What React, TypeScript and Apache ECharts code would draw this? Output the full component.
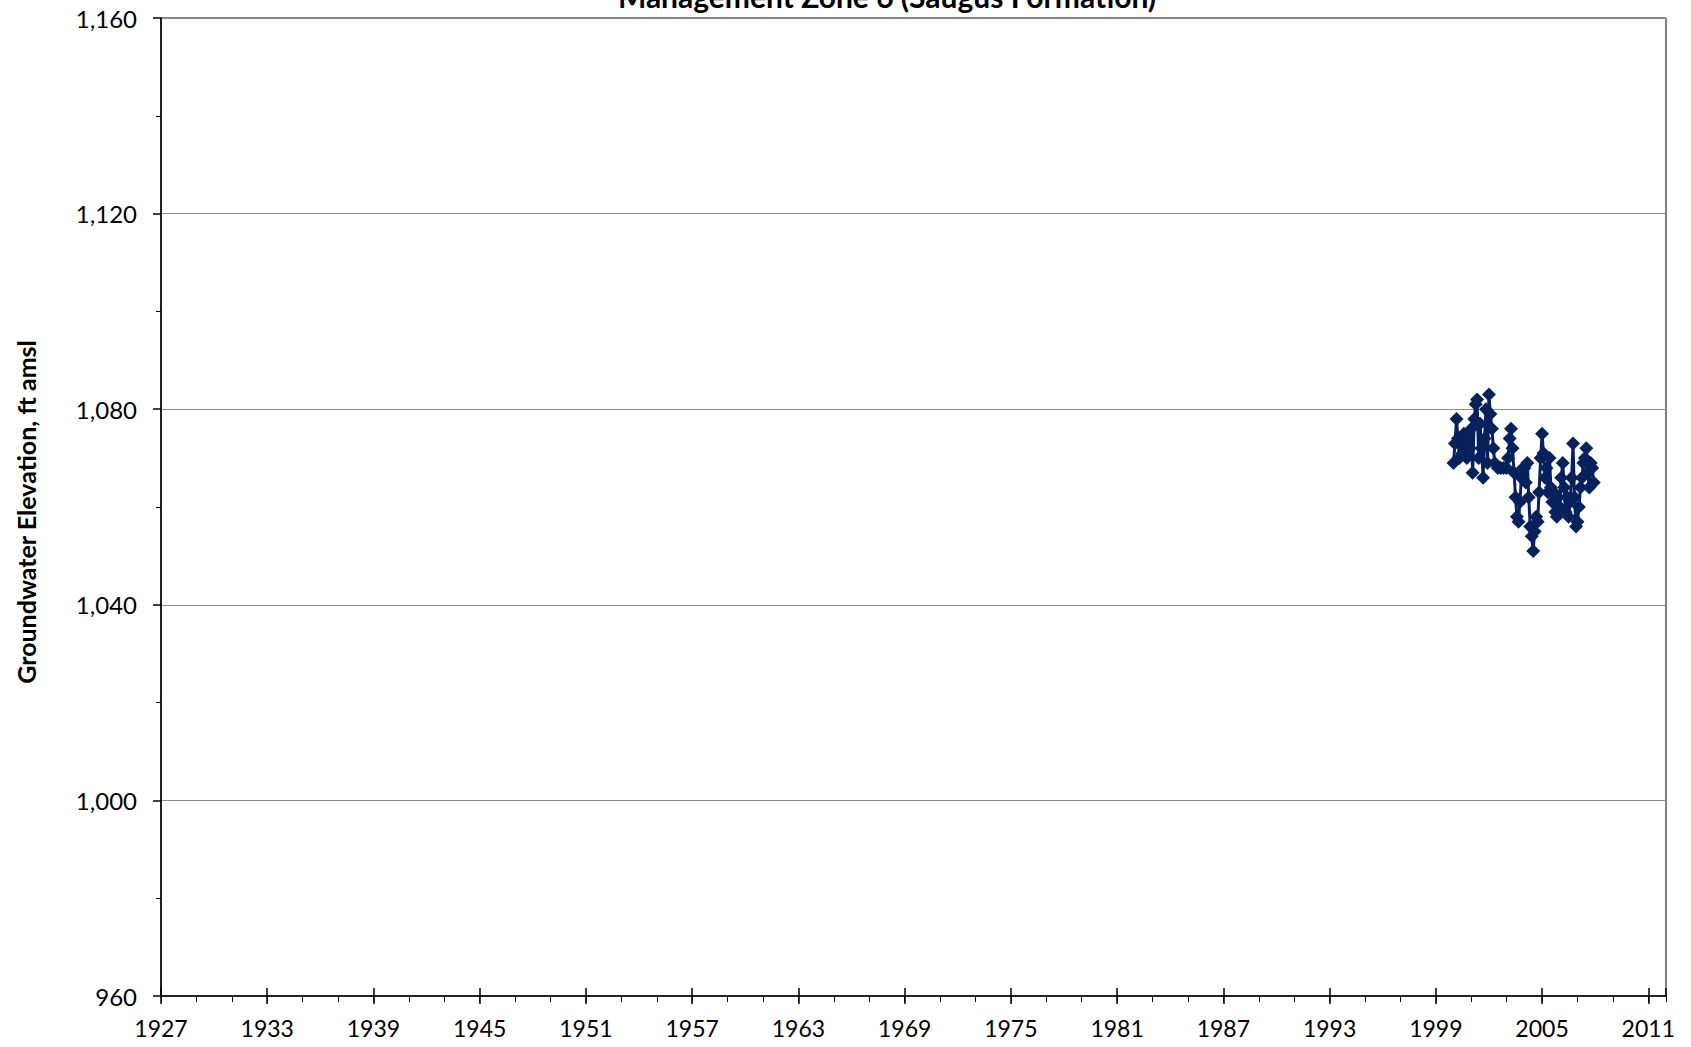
import React, { useEffect, useRef } from "react";
import * as echarts from "echarts";

const TITLE = "Management Zone 6 (Saugus Formation)";
const Y_NAME = "Groundwater Elevation, ft amsl";

const X_MIN_YEAR = 1927;
const X_MAX_YEAR = 2012;
const X_TICK_STEP = 6;
const Y_MIN = 960;
const Y_MAX = 1160;
const Y_TICK_STEP = 40;

const years = [
  2000.0, 2000.08, 2000.17, 2000.25, 2000.33, 2000.42, 2000.5, 2000.58, 2000.67, 2000.75, 2000.83, 2000.92,
  2001.0, 2001.08, 2001.17, 2001.25, 2001.33, 2001.42, 2001.5, 2001.58, 2001.67, 2001.75, 2001.83, 2001.92,
  2002.0, 2002.08, 2002.17, 2002.25, 2002.33, 2002.5, 2002.67, 2002.83,
  2003.0, 2003.08, 2003.17, 2003.25, 2003.33, 2003.42, 2003.5, 2003.58, 2003.67, 2003.75, 2003.83, 2003.92,
  2004.0, 2004.08, 2004.17, 2004.25, 2004.33, 2004.42, 2004.5, 2004.58, 2004.67, 2004.75, 2004.83, 2004.92,
  2005.0, 2005.08, 2005.17, 2005.25, 2005.33, 2005.42, 2005.5, 2005.58, 2005.67, 2005.75, 2005.83, 2005.92,
  2006.0, 2006.08, 2006.17, 2006.25, 2006.33, 2006.42, 2006.5, 2006.58, 2006.67, 2006.75, 2006.83, 2006.92,
  2007.0, 2007.08, 2007.17, 2007.25, 2007.33, 2007.42, 2007.5, 2007.58, 2007.67, 2007.75, 2007.83, 2007.92,
];

const elevations = [
  1069, 1073, 1078, 1074, 1070, 1073, 1071, 1075, 1072, 1070, 1074, 1072,
  1076, 1067, 1078, 1081, 1082, 1070, 1077, 1072, 1066, 1074, 1080, 1069,
  1083, 1079, 1076, 1072, 1069, 1068, 1068, 1068,
  1068, 1070, 1074, 1076, 1072, 1067, 1062, 1058, 1057, 1061, 1066, 1068,
  1068, 1065, 1069, 1062, 1056, 1054, 1051, 1055, 1058, 1057, 1063, 1070,
  1075, 1071, 1066, 1068, 1063, 1070, 1064, 1061, 1063, 1059, 1058, 1062,
  1060, 1066, 1069, 1064, 1059, 1062, 1058, 1061, 1066, 1073, 1062, 1056,
  1057, 1060, 1064, 1066, 1069, 1070, 1072, 1067, 1064, 1069, 1068, 1065,
];

const NAVY = "#06215c";
const FONT = "Lato";

export default function App() {
  const ref = useRef<HTMLDivElement>(null);
  useEffect(() => {
    if (!ref.current) return;
    const chart = echarts.init(ref.current, undefined, { renderer: "svg" });
    const span = X_MAX_YEAR - X_MIN_YEAR;
    const data = years.map((y, i) => [y - X_MIN_YEAR, elevations[i]]);
    const baseX = {
      type: "value" as const,
      gridIndex: 0,
      position: "bottom" as const,
      min: 0,
      max: span,
      splitLine: { show: false },
    };
    chart.setOption({
      animation: false,
      backgroundColor: "#ffffff",
      textStyle: { fontFamily: FONT },
      grid: {
        left: 161,
        right: 25,
        top: 18,
        bottom: 51,
        show: true,
        borderColor: "#000000",
        borderWidth: 1,
        backgroundColor: "transparent",
      },
      xAxis: [
        {
          ...baseX,
          interval: X_TICK_STEP,
          axisLine: { show: true, lineStyle: { color: "#000000", width: 1.5 } },
          axisTick: { show: true, inside: false, length: 8, lineStyle: { color: "#000000", width: 1.5 } },
          axisLabel: {
            show: true,
            margin: 20,
            fontSize: 23,
            color: "#000000",
            fontFamily: FONT,
            showMaxLabel: false,
            formatter: (v: number) => String(Math.round(v + X_MIN_YEAR)),
          },
        },
        {
          ...baseX,
          interval: X_TICK_STEP,
          axisLine: { show: false },
          axisTick: { show: true, inside: true, length: 8, lineStyle: { color: "#000000", width: 1.5 } },
          axisLabel: { show: false },
        },
        {
          ...baseX,
          interval: 2,
          axisLine: { show: false },
          axisTick: { show: true, inside: false, length: 6, lineStyle: { color: "#000000", width: 1 } },
          axisLabel: { show: false },
        },
      ],
      yAxis: {
        type: "value",
        min: Y_MIN,
        max: Y_MAX,
        interval: Y_TICK_STEP,
        axisLine: { show: true, lineStyle: { color: "#000000", width: 1.5 } },
        axisTick: { show: true, inside: false, length: 8, lineStyle: { color: "#000000", width: 1.5 } },
        minorTick: { show: true, splitNumber: 2, length: 5, lineStyle: { color: "#000000", width: 1 } },
        minorSplitLine: { show: false },
        splitLine: { show: true, lineStyle: { color: "#8c8c8c", width: 1 } },
        axisLabel: {
          margin: 24,
          fontSize: 24,
          color: "#000000",
          fontFamily: FONT,
          formatter: (v: number) => v.toLocaleString("en-US"),
        },
      },
      graphic: [
        {
          type: "text",
          x: 887,
          y: -4,
          style: {
            text: TITLE,
            fontSize: 30,
            fontWeight: "bold",
            fontFamily: FONT,
            fill: "#000000",
            align: "center",
            verticalAlign: "middle",
          },
        },
        {
          type: "text",
          x: 26,
          y: 512,
          rotation: Math.PI / 2,
          style: {
            text: Y_NAME,
            fontSize: 25,
            fontWeight: "bold",
            fontFamily: FONT,
            fill: "#000000",
            align: "center",
            verticalAlign: "middle",
          },
        },
      ],
      series: [
        {
          type: "line",
          xAxisIndex: 0,
          yAxisIndex: 0,
          data,
          symbol: "diamond",
          symbolSize: 14,
          showAllSymbol: true,
          lineStyle: { color: NAVY, width: 3 },
          itemStyle: { color: NAVY },
          z: 5,
        },
      ],
    });
    return () => chart.dispose();
  }, []);
  return (
    <div
      ref={ref}
      style={{ position: "fixed", left: 0, top: 0, width: 1691, height: 1047 }}
    />
  );
}
